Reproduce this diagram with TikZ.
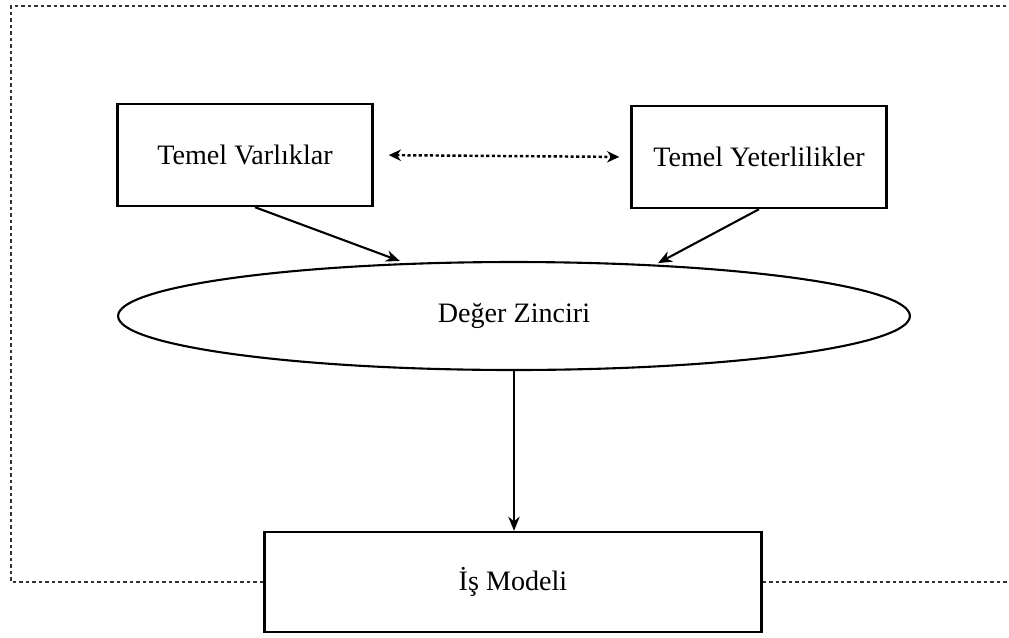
\documentclass[tikz,border=0pt]{standalone}
\usepackage{fontspec}
\setmainfont{Liberation Serif}
\usepackage{xcolor}
\usetikzlibrary{shapes.geometric, arrows.meta}
\tikzstyle{kutu} = [rectangle, minimum width=5.1cm, minimum height=2.04cm, text centered, draw=black, line width=1.4pt, fill=white]
\tikzstyle{zincirstil} = [ellipse, minimum width=15.84cm, minimum height=2.16cm, inner sep=0pt, text centered, draw=black, line width=1.2pt]
\tikzstyle{modelstil} = [rectangle, minimum width=9.94cm, minimum height=2cm, text centered, draw=black, line width=1.4pt, fill=white]
\tikzstyle{arrow} = [line width=1.2pt,->,>={Stealth[length=8pt, width=6.5pt]}]
\tikzstyle{dotarrow} = [line width=1.4pt,<->,>={Stealth[length=7pt, width=6.5pt]}, dash pattern=on 1.8pt off 1.4pt]
\tikzstyle{frame} = [line width=1.4pt, black!80, dash pattern=on 2pt off 1.7pt]

\begin{document}
\begin{tikzpicture}[x=0.02cm, y=-0.02cm, font=\fontsize{16}{19}\selectfont]
    \useasboundingbox (0,0) rectangle (1009,637);
    \node (varlik) [kutu] at (245,155) {Temel Varlıklar};
    \node (yeterlilik) [kutu] at (759,157) {Temel Yeterlilikler};
    \node (zincir) [zincirstil] at (514,316) {Değer Zinciri};
    \node (model) [modelstil] at (513,582) {İş Modeli};
    % dis cerceve
    \draw [frame] (model.west) -- (11,582) -- (11,6) -- (1007,6);
    \draw [frame] (model.east) -- (1009,582);
    \draw [dotarrow, shorten <=0.3cm, shorten >=0.22cm] (varlik.east) -- (yeterlilik.west);
    \draw [arrow, shorten >=0.12cm] ([xshift=0.2cm]varlik.south) -- (zincir.154.5);
    \draw [arrow, shorten >=0.06cm] (yeterlilik.south) -- (zincir.20.4);
    \draw [arrow] (zincir.south) -- (zincir.south |- model.north);
  \end{tikzpicture}
\end{document}
